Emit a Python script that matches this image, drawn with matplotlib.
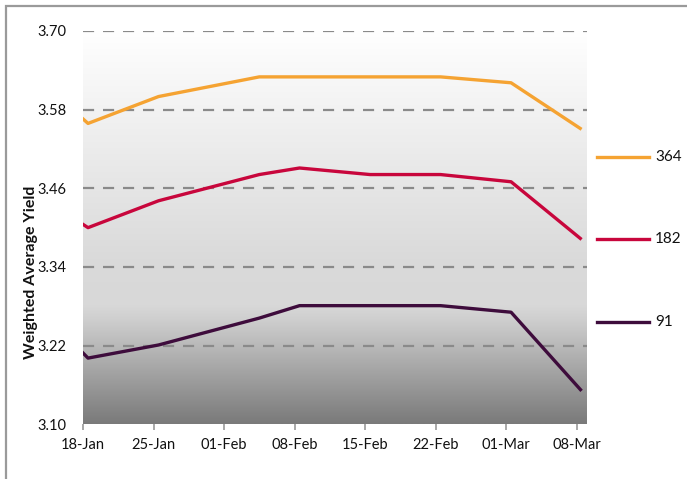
import numpy as np
import pandas as pd
import matplotlib
matplotlib.use("Agg")
import matplotlib.pyplot as plt
import matplotlib.dates as mdates
from matplotlib.colors import LinearSegmentedColormap
from matplotlib.lines import Line2D
from matplotlib.patches import Rectangle

plt.rcParams['font.family'] = ['Lato', 'DejaVu Sans']

# Auction dates and weighted average yields per tenor (days)
auction_dates = ["2013-01-11", "2013-01-18", "2013-01-25", "2013-02-04", "2013-02-08",
                 "2013-02-15", "2013-02-22", "2013-03-01", "2013-03-08"]
yield_364 = [3.655, 3.559, 3.600, 3.630, 3.630, 3.630, 3.630, 3.621, 3.550]
yield_182 = [3.470, 3.400, 3.441, 3.481, 3.491, 3.481, 3.481, 3.470, 3.382]
yield_91 = [3.310, 3.201, 3.221, 3.262, 3.281, 3.281, 3.281, 3.271, 3.151]

series_labels = ["364", "182", "91"]
series_colors = ["#F5A332", "#C8063C", "#3E0C3C"]

tick_dates = ["2013-01-18", "2013-01-25", "2013-02-01", "2013-02-08",
              "2013-02-15", "2013-02-22", "2013-03-01", "2013-03-08"]
y_ticks = [3.10, 3.22, 3.34, 3.46, 3.58, 3.70]

W, H = 687, 479
fig = plt.figure(figsize=(W / 100, H / 100), dpi=100)
fig.patch.set_facecolor("white")

# outer frame (top and left edges visible)
fig.add_artist(Rectangle((6 / W, -0.1), 1.2, 1.1 - 6 / H, transform=fig.transFigure,
                         fill=False, edgecolor="#9a9a9a", linewidth=1.6))

ax = fig.add_axes([83 / W, 1 - 424.3 / H, (586.6 - 83) / W, (424.3 - 31) / H])

x = pd.to_datetime(auction_dates) + pd.Timedelta(hours=12)
xnum = mdates.date2num(x)
x0 = mdates.date2num(pd.Timestamp("2013-01-18"))
x1 = mdates.date2num(pd.Timestamp("2013-03-09"))

# plot area gradient: white at top, flat light grey band, darker grey at bottom
cmap = LinearSegmentedColormap.from_list(
    "bg", [(0.0, "#7a7a7a"), (0.27, "#d0d0d0"), (0.30, "#d8d8d8"),
           (0.42, "#dadada"), (1.0, "#ffffff")])
grad = np.linspace(0, 1, 256).reshape(-1, 1)
ax.imshow(grad, extent=[x0, x1, 3.10, 3.70], origin="lower", aspect="auto",
          cmap=cmap, zorder=0, interpolation="bilinear")

for yt in y_ticks[1:]:
    ax.axhline(yt, color="#8a8a8a", linewidth=1.6, dashes=(5, 4), zorder=1)

for vals, col in zip([yield_364, yield_182, yield_91], series_colors):
    ax.plot(xnum, vals, color=col, linewidth=2.4, zorder=3, solid_joinstyle="round",
            solid_capstyle="butt")

ax.set_xlim(x0, x1)
ax.set_ylim(3.10, 3.70)
ax.set_xticks(mdates.date2num(pd.to_datetime(tick_dates)))
ax.xaxis.set_major_formatter(mdates.DateFormatter("%d-%b"))
ax.set_yticks(y_ticks)
ax.set_yticklabels([f"{v:.2f}" for v in y_ticks])
ax.tick_params(axis="x", length=4, width=1.2, color="#9a9a9a", labelsize=10.5, pad=6,
               labelcolor="#111111")
ax.tick_params(axis="y", length=0, labelsize=10.5, pad=12, labelcolor="#111111")
for s in ax.spines.values():
    s.set_visible(False)

fig.text(31 / W, 1 - 272 / H, "Weighted Average Yield", rotation=90, ha="center",
         va="center", fontsize=11.5, fontweight="bold", color="#111111")

# legend entries at the right
legend_y = [156.7, 239.3, 322.3]
for lab, col, ly in zip(series_labels, series_colors, legend_y):
    fig.add_artist(Line2D([597 / W, 649 / W], [1 - ly / H, 1 - ly / H],
                          transform=fig.transFigure, color=col, linewidth=2.4))
    fig.text(655 / W, 1 - ly / H, lab, ha="left", va="center", fontsize=11, color="#111111")

fig.savefig("out.png", dpi=100)
